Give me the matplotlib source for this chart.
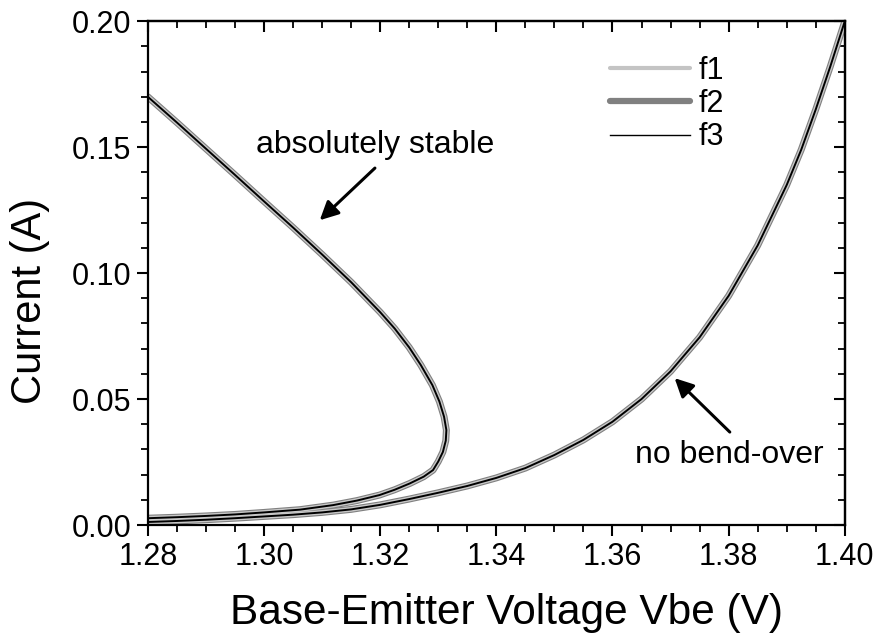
import matplotlib
matplotlib.use('Agg')
import matplotlib.pyplot as plt
from matplotlib.ticker import MultipleLocator
from matplotlib.lines import Line2D

plt.rcParams['font.family'] = ['Liberation Sans', 'DejaVu Sans']

# curve with bend-over (upper branch down to the nose, then lower branch back to 1.28 V)
vbe_bend = [1.2800, 1.2850, 1.2900, 1.2950, 1.3000, 1.3050, 1.3100, 1.3150, 1.3200,
            1.3225, 1.3250, 1.3270, 1.3290, 1.3302, 1.3310, 1.3314, 1.3313, 1.3308,
            1.3300, 1.3291, 1.3275, 1.3251, 1.3225, 1.3199, 1.3160, 1.3119, 1.3062,
            1.3000, 1.2950, 1.2900, 1.2850, 1.2800]
i_bend = [0.1700, 0.1598, 0.1494, 0.1390, 0.1285, 0.1181, 0.1074, 0.0964, 0.0845,
          0.0780, 0.0705, 0.0635, 0.0555, 0.0490, 0.0430, 0.0377, 0.0335, 0.0290,
          0.0252, 0.0218, 0.0192, 0.0165, 0.0140, 0.0119, 0.0097, 0.0079, 0.0061,
          0.0050, 0.0042, 0.0036, 0.0031, 0.0027]

# curve without bend-over
vbe_mono = [1.280, 1.285, 1.290, 1.295, 1.300, 1.305, 1.310, 1.315, 1.320, 1.325,
            1.330, 1.335, 1.340, 1.345, 1.350, 1.355, 1.360, 1.365, 1.370, 1.375,
            1.380, 1.385, 1.390, 1.3925, 1.395, 1.3975, 1.400]
i_mono = [0.0012, 0.0016, 0.0021, 0.0027, 0.0034, 0.0041, 0.0050, 0.0062, 0.0080, 0.0103,
          0.0128, 0.0155, 0.0187, 0.0226, 0.0278, 0.0338, 0.0410, 0.0500, 0.0610, 0.0745,
          0.0910, 0.1110, 0.1350, 0.1490, 0.1650, 0.1820, 0.2000]

series = [('f2', '#808080', 5.0), ('f1', '#c8c8c8', 3.4), ('f3', 'black', 1.4)]

fig = plt.figure(figsize=(8.8, 6.43), dpi=100)
ax = fig.add_axes([0.168, 0.1835, 0.792, 0.7835])

for name, col, lw in series:
    ax.plot(vbe_bend, i_bend, color=col, lw=lw, solid_capstyle='round', solid_joinstyle='round')
    ax.plot(vbe_mono, i_mono, color=col, lw=lw, solid_capstyle='round', solid_joinstyle='round')

ax.set_xlim(1.28, 1.40)
ax.set_ylim(0, 0.20)
ax.xaxis.set_major_locator(MultipleLocator(0.02))
ax.xaxis.set_minor_locator(MultipleLocator(0.005))
ax.yaxis.set_major_locator(MultipleLocator(0.05))
ax.yaxis.set_minor_locator(MultipleLocator(0.01))
ax.xaxis.set_major_formatter(plt.FormatStrFormatter('%.2f'))
ax.yaxis.set_major_formatter(plt.FormatStrFormatter('%.2f'))
ax.tick_params(which='major', direction='out', length=8, width=1.5, labelsize=22, pad=4)
ax.tick_params(which='minor', direction='out', length=5, width=1.3)
for s in ax.spines.values():
    s.set_linewidth(1.6)

# mirrored inward ticks on top and right
top = ax.secondary_xaxis('top')
top.xaxis.set_major_locator(MultipleLocator(0.02))
top.xaxis.set_minor_locator(MultipleLocator(0.005))
top.tick_params(which='major', direction='in', length=8, width=1.5, labeltop=False)
top.tick_params(which='minor', direction='in', length=5, width=1.3)
right = ax.secondary_yaxis('right')
right.yaxis.set_major_locator(MultipleLocator(0.05))
right.yaxis.set_minor_locator(MultipleLocator(0.01))
right.tick_params(which='major', direction='in', length=8, width=1.5, labelright=False)
right.tick_params(which='minor', direction='in', length=5, width=1.3)
top.spines['top'].set_linewidth(1.6)
right.spines['right'].set_linewidth(1.6)

ax.set_xlabel('Base-Emitter Voltage Vbe (V)', fontsize=30.5)
ax.xaxis.set_label_coords(0.515, -0.135)
ax.set_ylabel('Current (A)', fontsize=30)
ax.yaxis.set_label_coords(-0.14, 0.445)

handles = [Line2D([], [], color='#c4c4c4', lw=3.0, solid_capstyle='round'),
           Line2D([], [], color='#808080', lw=4.5, solid_capstyle='round'),
           Line2D([], [], color='black', lw=1.0)]
ax.legend(handles, ['f1', 'f2', 'f3'], loc='upper right', bbox_to_anchor=(0.845, 0.955),
          frameon=False, fontsize=22, handlelength=2.6, handletextpad=0.3,
          labelspacing=0.1, borderaxespad=0)

arrow = dict(arrowstyle='-|>', color='black', lw=2.2, mutation_scale=28, shrinkA=0, shrinkB=0)
ax.annotate('', xy=(1.3096, 0.1210), xytext=(1.3191, 0.1417), arrowprops=arrow)
ax.text(1.3191, 0.1508, 'absolutely stable', fontsize=23, ha='center', va='center')
ax.annotate('', xy=(1.3707, 0.0583), xytext=(1.3802, 0.0369), arrowprops=arrow)
ax.text(1.3802, 0.0278, 'no bend-over', fontsize=23, ha='center', va='center')

fig.savefig('out.png', dpi=100)
